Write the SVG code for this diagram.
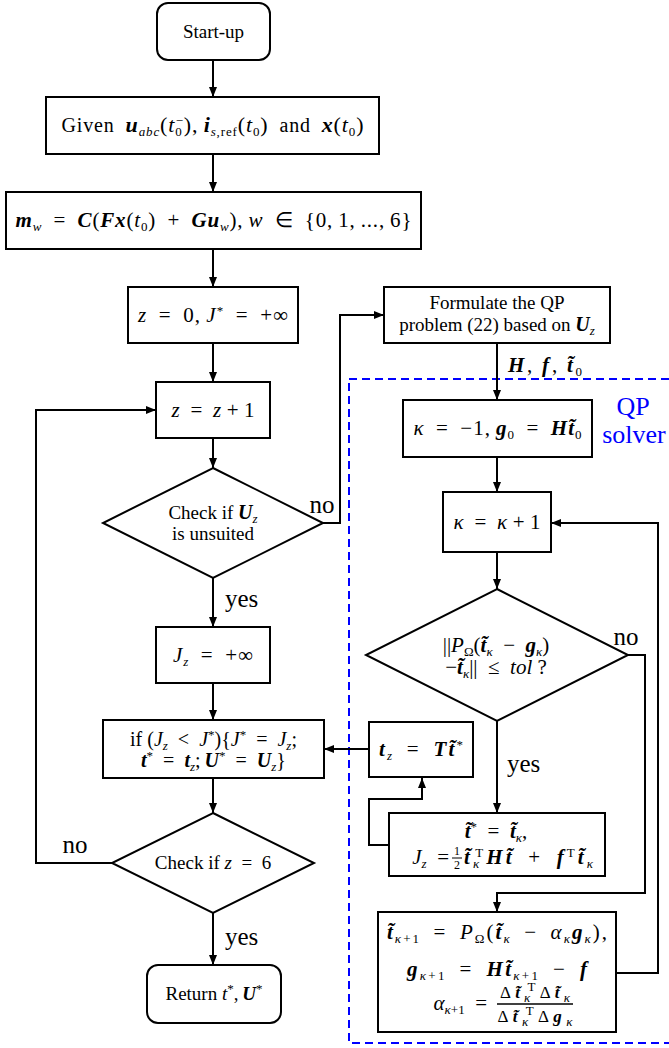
<svg xmlns="http://www.w3.org/2000/svg" width="669" height="1048" viewBox="0 0 669 1048">
<defs>
<marker id="ah" viewBox="0 0 10 8" refX="10" refY="4" markerWidth="10" markerHeight="8" markerUnits="userSpaceOnUse" orient="auto"><path d="M0,0 L10,4 L0,8 z" fill="#000"/></marker>
<style>
text{font-family:"Liberation Serif","Times New Roman",serif;font-size:19px;fill:#000}
.c{text-anchor:middle}
.m{font-size:21px}
.i{font-style:italic}
.bi{font-style:italic;font-weight:bold}
.sb{font-size:13px;baseline-shift:-4px}
.sp{font-size:13px;baseline-shift:7px}
.lbl{font-size:25px}
.qp{font-size:26px;fill:#0000ff}
.box{fill:#fff;stroke:#000;stroke-width:2}
.arr{fill:none;stroke:#000;stroke-width:2;marker-end:url(#ah)}
.dash{fill:none;stroke:#0000ff;stroke-width:2;stroke-dasharray:8 5}
</style>
</defs>
<rect width="669" height="1048" fill="#fff"/>
<g id="qp-solver-frame">
<rect class="dash" x="349" y="379" width="330" height="664"/>
<text class="qp c" x="633" y="415">QP</text>
<text class="qp c" x="634" y="443">solver</text>
</g>
<g id="connectors">
<path class="arr" d="M213,60 V97"/>
<path class="arr" d="M213,154 V192"/>
<path class="arr" d="M213,249 V287"/>
<path class="arr" d="M213,343 V382"/>
<path class="arr" d="M213,438 V468"/>
<path class="arr" d="M323,523 H340 V315 H384"/>
<path class="arr" d="M213,578 V627"/>
<path class="arr" d="M213,683 V720"/>
<path class="arr" d="M213,778 V813"/>
<path class="arr" d="M112,863 H36 V410 H156"/>
<path class="arr" d="M213,913 V965"/>
<path class="arr" d="M497,343 V400"/>
<path class="arr" d="M497,457 V492"/>
<path class="arr" d="M497,552 V589"/>
<path class="arr" d="M497,721 V813"/>
<path class="arr" d="M628,655 H645 V893 H497 V912"/>
<path class="arr" d="M616,973 H658 V523 H551"/>
<path class="arr" d="M389,845 H369 V799 H422 V778"/>
<path class="arr" d="M369,749 H324"/>
<text class="lbl" x="322" y="513" text-anchor="middle">no</text>
<text class="lbl" x="225" y="607">yes</text>
<text class="lbl" x="75" y="853" text-anchor="middle">no</text>
<text class="lbl" x="225" y="945">yes</text>
<text class="lbl" x="626" y="645" text-anchor="middle">no</text>
<text class="lbl" x="507" y="772">yes</text>
<text class="m" x="508" y="372" textLength="74" lengthAdjust="spacing"><tspan class="bi">H</tspan>,&#8201;<tspan class="bi">f</tspan>,&#8201;<tspan class="bi">t̃</tspan><tspan class="sb">0</tspan></text>
</g>
<g id="start">
<rect class="box" x="157" y="3" width="113" height="57" rx="11"/>
<text class="c" x="213.5" y="38">Start-up</text>
</g>
<g id="given">
<rect class="box" x="46" y="97" width="333" height="57"/>
<text class="c" x="212.5" y="132" style="font-size:20px" textLength="302" lengthAdjust="spacing">Given&#8194;<tspan style="font-size:22px"><tspan class="bi">u</tspan><tspan class="sb i">abc</tspan>(<tspan class="i">t</tspan><tspan class="sb">0</tspan><tspan class="sp" dx="-7">−</tspan>),&#8201;<tspan class="bi">i</tspan><tspan class="sb i">s</tspan><tspan class="sb">,ref</tspan>(<tspan class="i">t</tspan><tspan class="sb">0</tspan>)</tspan>&#8194;and&#8194;<tspan style="font-size:22px"><tspan class="bi">x</tspan>(<tspan class="i">t</tspan><tspan class="sb">0</tspan>)</tspan></text>
</g>
<g id="mw">
<rect class="box" x="6" y="192" width="415" height="57"/>
<text class="c m" x="213.5" y="227" textLength="396" lengthAdjust="spacing"><tspan class="bi">m</tspan><tspan class="sb i">w</tspan>&#8194;=&#8194;<tspan class="bi">C</tspan>(<tspan class="bi">Fx</tspan>(<tspan class="i">t</tspan><tspan class="sb">0</tspan>)&#8194;+&#8194;<tspan class="bi">Gu</tspan><tspan class="sb i">w</tspan>),&#8201;<tspan class="i">w</tspan>&#8194;∈&#8194;{0,&#8201;1,&#8201;...,&#8201;6}</text>
</g>
<g id="init">
<rect class="box" x="128" y="287" width="170" height="56"/>
<text class="c m" x="213" y="322" textLength="150" lengthAdjust="spacing"><tspan class="i">z</tspan>&#8194;=&#8194;0,&#8201;<tspan class="i">J</tspan><tspan class="sp">*</tspan>&#8194;=&#8194;+∞</text>
</g>
<g id="inc-z">
<rect class="box" x="156" y="382" width="114" height="56"/>
<text class="c m" x="213" y="417" textLength="83" lengthAdjust="spacing"><tspan class="i">z</tspan>&#8194;=&#8194;<tspan class="i">z</tspan> + 1</text>
</g>
<g id="check-unsuited">
<polygon class="box" points="213,468 323,523 213,578 103,523"/>
<text class="c" x="213" y="519">Check if <tspan class="bi" style="font-size:20px">U</tspan><tspan class="sb i">z</tspan></text>
<text class="c" x="213" y="540">is unsuited</text>
</g>
<g id="jz-inf">
<rect class="box" x="156" y="627" width="114" height="56"/>
<text class="c m" x="213" y="662" textLength="80" lengthAdjust="spacing"><tspan class="i">J</tspan><tspan class="sb i">z</tspan>&#8194;=&#8194;+∞</text>
</g>
<g id="update">
<rect class="box" x="103" y="720" width="221" height="58"/>
<text class="c" x="213.5" y="746" style="font-size:20px">if (<tspan class="i">J</tspan><tspan class="sb i">z</tspan>&#8194;&lt;&#8194;<tspan class="i">J</tspan><tspan class="sp">*</tspan>){<tspan class="i">J</tspan><tspan class="sp">*</tspan>&#8194;=&#8194;<tspan class="i">J</tspan><tspan class="sb i">z</tspan>;</text>
<text class="c" x="213.5" y="767" style="font-size:20px"><tspan class="bi">t</tspan><tspan class="sp">*</tspan>&#8194;=&#8194;<tspan class="bi">t</tspan><tspan class="sb i">z</tspan>;&#8201;<tspan class="bi">U</tspan><tspan class="sp">*</tspan>&#8194;=&#8194;<tspan class="bi">U</tspan><tspan class="sb i">z</tspan>}</text>
</g>
<g id="check-z6">
<polygon class="box" points="213,813 314,863 213,913 112,863"/>
<text class="c" x="213" y="869">Check if <tspan class="i">z</tspan>&#8194;=&#8194;6</text>
</g>
<g id="return">
<rect class="box" x="147" y="965" width="134" height="58" rx="11"/>
<text class="c" x="214" y="1000">Return <tspan class="i">t</tspan><tspan class="sp">*</tspan>,&#8201;<tspan class="bi">U</tspan><tspan class="sp">*</tspan></text>
</g>
<g id="formulate">
<rect class="box" x="384" y="287" width="226" height="56"/>
<text class="c" x="497" y="309">Formulate the QP</text>
<text class="c" x="497" y="331">problem (22) based on <tspan class="bi" style="font-size:20px">U</tspan><tspan class="sb i">z</tspan></text>
</g>
<g id="kappa-init">
<rect class="box" x="403" y="400" width="189" height="57"/>
<text class="c m" x="497.5" y="435" textLength="168" lengthAdjust="spacing"><tspan class="i">κ</tspan>&#8194;=&#8194;−1,&#8201;<tspan class="bi">g</tspan><tspan class="sb">0</tspan>&#8194;=&#8194;<tspan class="bi">Ht̃</tspan><tspan class="sb">0</tspan></text>
</g>
<g id="kappa-inc">
<rect class="box" x="443" y="492" width="108" height="60"/>
<text class="c m" x="497" y="529" textLength="87" lengthAdjust="spacing"><tspan class="i">κ</tspan>&#8194;=&#8194;<tspan class="i">κ</tspan> + 1</text>
</g>
<g id="check-tol">
<polygon class="box" points="497,589 628,655 497,721 366,655"/>
<text class="c" x="496" y="652" style="font-size:21px">||<tspan class="i">P</tspan><tspan class="sb">Ω</tspan>(<tspan class="bi">t̃</tspan><tspan class="sb i">κ</tspan>&#8194;−&#8194;<tspan class="bi">g</tspan><tspan class="sb i">κ</tspan>)</text>
<text class="c" x="496" y="674" style="font-size:21px">−<tspan class="bi">t̃</tspan><tspan class="sb i">κ</tspan>||&#8194;≤&#8194;<tspan class="i">tol</tspan> ?</text>
</g>
<g id="tz">
<rect class="box" x="369" y="722" width="104" height="55"/>
<text class="c m" x="421" y="756" textLength="84" lengthAdjust="spacing"><tspan class="bi">t</tspan><tspan class="sb i">z</tspan>&#8194;=&#8194;<tspan class="bi">Tt̃</tspan><tspan class="sp">*</tspan></text>
</g>
<g id="optimum">
<rect class="box" x="389" y="813" width="216" height="63"/>
<text class="c m" x="496" y="838"><tspan class="bi">t̃</tspan><tspan class="sp">*</tspan>&#8194;=&#8194;<tspan class="bi">t̃</tspan><tspan class="sb i">κ</tspan>,</text>
<text class="m" x="449" y="864" text-anchor="end"><tspan class="i">J</tspan><tspan class="sb i">z</tspan>&#8194;=</text>
<text x="457" y="855" class="c" style="font-size:12px">1</text>
<line x1="452" y1="858" x2="462" y2="858" stroke="#000" stroke-width="1"/>
<text x="457" y="869" class="c" style="font-size:12px">2</text>
<text class="m" x="464" y="864" textLength="129" lengthAdjust="spacing"><tspan class="bi">t̃</tspan><tspan class="sb i">κ</tspan><tspan class="sp" dx="-7">T</tspan><tspan class="bi">Ht̃</tspan>&#8194;+&#8194;<tspan class="bi">f</tspan><tspan class="sp">T</tspan><tspan class="bi">t̃</tspan><tspan class="sb i">κ</tspan></text>
</g>
<g id="gradient-step">
<rect class="box" x="378" y="912" width="238" height="120"/>
<text class="c m" x="497" y="939" textLength="220" lengthAdjust="spacing"><tspan class="bi">t̃</tspan><tspan class="sb i">κ</tspan><tspan class="sb">+1</tspan>&#8194;=&#8194;<tspan class="i">P</tspan><tspan class="sb">Ω</tspan>(<tspan class="bi">t̃</tspan><tspan class="sb i">κ</tspan>&#8194;−&#8194;<tspan class="i">α</tspan><tspan class="sb i">κ</tspan><tspan class="bi">g</tspan><tspan class="sb i">κ</tspan>),</text>
<text class="c m" x="497" y="976" textLength="180" lengthAdjust="spacing"><tspan class="bi">g</tspan><tspan class="sb i">κ</tspan><tspan class="sb">+1</tspan>&#8194;=&#8194;<tspan class="bi">Ht̃</tspan><tspan class="sb i">κ</tspan><tspan class="sb">+1</tspan>&#8194;−&#8194;<tspan class="bi">f</tspan></text>
<text class="m" x="487" y="1010" text-anchor="end"><tspan class="i">α</tspan><tspan class="sb i">κ</tspan><tspan class="sb">+1</tspan>&#8194;=</text>
<text class="c" x="535" y="998" style="font-size:17px" textLength="70" lengthAdjust="spacing">Δ<tspan class="bi">t̃</tspan><tspan class="sb i">κ</tspan><tspan class="sp" dx="-7">T</tspan>Δ<tspan class="bi">t̃</tspan><tspan class="sb i">κ</tspan></text>
<line x1="497" y1="1004" x2="573" y2="1004" stroke="#000" stroke-width="1.5"/>
<text class="c" x="535" y="1022" style="font-size:17px" textLength="75" lengthAdjust="spacing">Δ<tspan class="bi">t̃</tspan><tspan class="sb i">κ</tspan><tspan class="sp" dx="-7">T</tspan>Δ<tspan class="bi">g</tspan><tspan class="sb i">κ</tspan></text>
</g>
</svg>
